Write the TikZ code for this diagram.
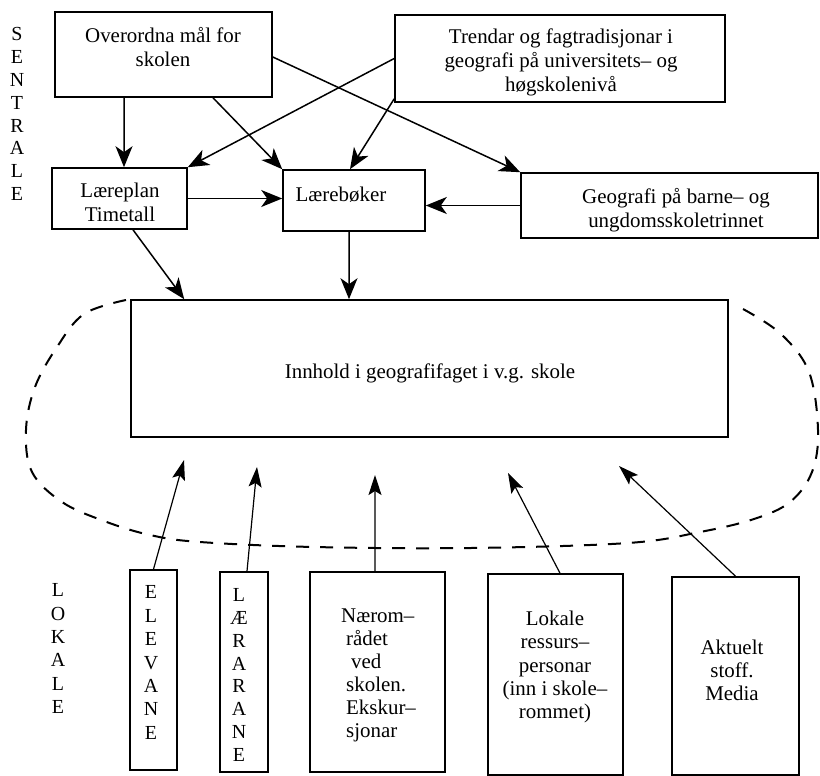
\documentclass[tikz,border=0pt]{standalone}
\usepackage{fontspec}
\setmainfont{Liberation Serif}
\usetikzlibrary{arrows.meta}
\begin{document}
\begin{tikzpicture}[x=1bp,y=-1bp,
  box/.style={draw, line width=1.6bp, inner sep=0pt},
  txt/.style={align=center, font=\fontsize{21}{24}\selectfont, inner sep=0pt},
  letters/.style={align=center, font=\fontsize{20}{23}\selectfont, inner sep=0pt},
  arr/.style={line width=1.5bp, -{Stealth[length=21bp,width=17bp,inset=6bp]}},
  thinarr/.style={line width=1.2bp, -{Stealth[length=20bp,width=13bp,inset=4bp]}},
  ring/.style={line width=2bp, dash pattern=on 13bp off 11bp},
]
\useasboundingbox (0,0) rectangle (820,776);

% boxes
\node[box, minimum width=217bp, minimum height=85bp] (ovr) at (163.5,54.5) {};
\node[box, minimum width=330bp, minimum height=87bp] (trend) at (560,58.5) {};
\node[box, minimum width=135bp, minimum height=61bp] (lp) at (119.5,198.5) {};
\node[box, minimum width=142bp, minimum height=61bp] (lb) at (354,200.5) {};
\node[box, minimum width=297bp, minimum height=65bp] (geo) at (669.5,205.5) {};
\node[box, minimum width=597bp, minimum height=137bp] (inn) at (429.5,368.5) {};
\node[box, minimum width=47bp, minimum height=200bp] (elev) at (153.5,670) {};
\node[box, minimum width=48bp, minimum height=200bp] (larar) at (244,672) {};
\node[box, minimum width=135bp, minimum height=200bp] (naer) at (377.5,672) {};
\node[box, minimum width=135bp, minimum height=201bp] (lok) at (555.5,674.5) {};
\node[box, minimum width=127bp, minimum height=198bp] (akt) at (735.5,676) {};

% texts
\node[txt] (tovr) at (163,47) {Overordna mål for\\skolen};
\node[txt] (ttrend) at (561,62) {Trendar og fagtradisjonar i\\geografi på universitets– og\\høgskolenivå};
\node[txt] (tlp) at (120,202) {Læreplan\\Timetall};
\node[txt] (tlb) at (341,195) {Lærebøker};
\node[txt] (tgeo) at (676,210) {Geografi på barne– og\\ungdomsskoletrinnet};
\node[txt] (tinn) at (430,373) {Innhold i geografifaget i v.g. skole};
\node[txt, align=left, anchor=west, font=\fontsize{21}{23}\selectfont] (tnaer) at (341,675.5)
  {Nærom–\\\hspace*{5bp}rådet\\\hspace*{10bp}ved\\\hspace*{5bp}skolen.\\\hspace*{5bp}Ekskur–\\\hspace*{5bp}sjonar};
\node[txt, font=\fontsize{21}{23.3}\selectfont] (tlok) at (555,667) {Lokale\\ressurs–\\personar\\(inn i skole–\\rommet)};
\node[txt, font=\fontsize{21}{23}\selectfont] (takt) at (732,670) {Aktuelt\\stoff.\\Media};

% letter stacks
\node[letters] (sentrale) at (17,114) {S\\E\\N\\T\\R\\A\\L\\E};
\node[letters, font=\fontsize{20}{23.4}\selectfont] (lokale) at (58,648.5) {L\\O\\K\\A\\L\\E};
\node[letters, font=\fontsize{20}{23.5}\selectfont] (elevane) at (151,662.5) {E\\L\\E\\V\\A\\N\\E};
\node[letters, font=\fontsize{20}{22.9}\selectfont] (lararane) at (239,675) {L\\Æ\\R\\A\\R\\A\\N\\E};

% dashed surround
\draw[ring] plot[smooth, tension=0.6] coordinates {
  (126,300) (84,314) (57,347) (35,387) (26,430) (32,472) (62,502) (104,521)
  (150,535) (200,542) (314,547) (471,548) (628,543) (700,532) (754,519)
  (790,502) (812,472) (818,430) (809,372) (781,334) (743,309)};

% top arrows
\draw[arr] ([xshift=-39.5bp]ovr.south) -- ([xshift=4.5bp]lp.north);
\draw[arr] ([xshift=49.5bp]ovr.south) -- (lb.north west);
\draw[arr] ([yshift=-2.5bp]ovr.east) -- (geo.north west);
\draw[arr] (trend.west) -- (lp.north east);
\draw[arr] ([yshift=4bp]trend.south west) -- ([xshift=-4bp]lb.north);
\draw[arr] (lp.east) -- (lp.east -| lb.west);
\draw[arr] (geo.west) -- (geo.west -| lb.east);
\draw[arr] ([xshift=13.5bp]lp.south) -- ([xshift=54bp]inn.north west);
\draw[arr] ([xshift=-5bp]lb.south) -- ([xshift=-80.5bp]inn.north);

% bottom arrows
\coordinate (t1) at (184,460);
\coordinate (t2) at (257,467);
\coordinate (t3) at (375,475);
\coordinate (t4) at (508,473);
\coordinate (t5) at (619,466);
\draw[thinarr] (elev.north) -- (t1);
\draw[thinarr] ([xshift=3bp]larar.north) -- (t2);
\draw[thinarr] ([xshift=-2.5bp]naer.north) -- (t3);
\draw[thinarr] ([xshift=4.5bp]lok.north) -- (t4);
\draw[thinarr] (akt.north) -- (t5);
\end{tikzpicture}
\end{document}
